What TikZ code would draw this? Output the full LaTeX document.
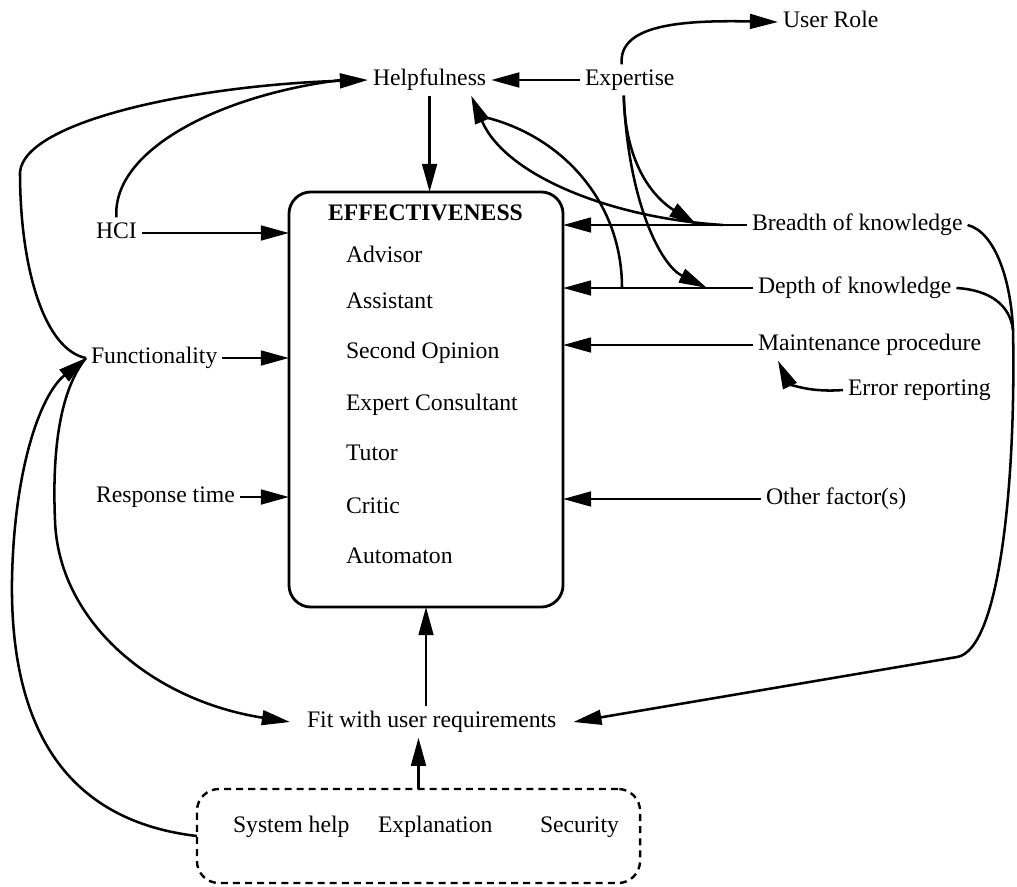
\documentclass[tikz,border=0pt]{standalone}
\usepackage{fontspec}
\setmainfont{Liberation Serif}
\usetikzlibrary{arrows.meta}
\begin{document}
\begin{tikzpicture}[x=0.025cm,y=-0.025cm,
  lbl/.style={anchor=west, inner sep=0pt, outer sep=0.125cm,
    text height=11.8pt, text depth=3.4pt,
    font=\fontsize{16.85pt}{20pt}\selectfont},
  boldlbl/.style={lbl, font=\fontsize{16.85pt}{20pt}\selectfont\bfseries},
  conn/.style={line width=1.8pt},
  arr/.style={conn, -{Triangle[length=20pt,width=10.5pt]}},
  mainbox/.style={draw, line width=2pt, rounded corners=0.55cm,
    inner sep=0pt, outer sep=0pt},
  groupbox/.style={draw, line width=1.7pt, dash pattern=on 5pt off 3.6pt,
    rounded corners=0.55cm, inner sep=0pt, outer sep=0pt},
]
\useasboundingbox (0,0) rectangle (1017,886);

% central box with the roles
\node[mainbox, minimum width=6.85cm, minimum height=10.375cm] (eff) at (426,399.5) {};
\node[boldlbl] (efft) at (323,215) {EFFECTIVENESS};
\node[lbl] (r1) at (341,257) {Advisor};
\node[lbl] (r2) at (341,303) {Assistant};
\node[lbl] (r3) at (341,353) {Second Opinion};
\node[lbl] (r4) at (341,405) {Expert Consultant};
\node[lbl] (r5) at (341,455) {Tutor};
\node[lbl] (r6) at (341,508) {Critic};
\node[lbl] (r7) at (341,558) {Automaton};

% factors
\node[lbl] (help) at (368,80) {Helpfulness};
\node[lbl] (exp) at (580,80) {Expertise};
\node[lbl] (role) at (778,22) {User Role};
\node[lbl] (hci) at (91,233) {HCI};
\node[lbl] (func) at (86,358) {Functionality};
\node[lbl] (resp) at (91,497) {Response time};
\node[lbl] (fit) at (302,722) {Fit with user requirements};
\node[lbl] (breadth) at (747,225) {Breadth of knowledge};
\node[lbl] (depth) at (753,288) {Depth of knowledge};
\node[lbl] (maint) at (753,345) {Maintenance procedure};
\node[lbl] (err) at (843,390) {Error reporting};
\node[lbl] (other) at (761,499) {Other factor(s)};

% dashed group at the bottom
\node[groupbox, minimum width=11.075cm, minimum height=2.35cm] (sys) at (418.5,836) {};
\node[lbl] (s1) at (228,827) {System help};
\node[lbl] (s2) at (373,827) {Explanation};
\node[lbl] (s3) at (535,827) {Security};

% junction points on the curves
\coordinate (bj) at (697,225);
\coordinate (dj) at (707,288);
\coordinate (bh) at (723,225);
\coordinate (dh) at (622,288);
\coordinate (hj) at (484,117);
\coordinate (rc) at (1013,330);
\coordinate (bend) at (957,657);
\coordinate (cusp) at (20,172);
\coordinate (lw) at (12,580);
\coordinate (lv) at (55,520);

% straight connectors into the box
\draw[arr] (help.south) -- (help.south |- eff.north);
\draw[arr] (hci) -- (eff.west |- hci);
\draw[arr] (func) -- (eff.west |- func);
\draw[arr] (resp) -- (eff.west |- resp);
\draw[arr] (breadth) -- (eff.east |- breadth);
\draw[arr] (depth) -- (eff.east |- depth);
\draw[arr] (maint) -- (eff.east |- maint);
\draw[arr] (other) -- (eff.east |- other);
\draw[arr] (fit.north -| eff.south) -- (eff.south);
\draw[arr] (sys.north) -- (sys.north |- fit.south);
\draw[arr] (exp) -- (help);

% Expertise links
\draw[arr] ([xshift=-0.2cm]exp.north) .. controls (618,25) and (680,20) .. (role.west);
\draw[arr] ([xshift=-0.15cm]exp.south) .. controls (625,160) and (650,195) .. (bj);
\draw[arr] ([xshift=-0.15cm]exp.south) .. controls (628,200) and (660,265) .. (dj);

% knowledge back to Helpfulness
\draw[arr] (bh) .. controls (610,218) and (505,175) .. ([xshift=-0.5cm]help.south east);
\draw[conn] (dh) .. controls (622,200) and (560,135) .. (hj);

% left side into Helpfulness
\draw[arr] (func.west) .. controls (45,350) and (20,270) .. (cusp)
  .. controls (25,120) and (200,85) .. (help.west);
\draw[conn] (hci.north) .. controls (112,150) and (220,95) .. ([xshift=-0.675cm]help.west);

% Error reporting into Maintenance procedure
\draw[arr] (err.west) .. controls (805,393) and (788,382) .. ([xshift=0.625cm]maint.south west);

% knowledge to Fit with user requirements
\draw[arr] (breadth.east) .. controls (995,232) and (1011,280) .. (rc)
  .. controls (1016,480) and (1000,650) .. (bend) -- ([xshift=0.3cm]fit.east);
\draw[conn] (depth.east) .. controls (990,290) and (1010,305) .. (rc);

% Functionality to Fit, and the group back to Functionality
\draw[arr] (func.west) .. controls (60,390) and (52,450) .. (lv)
  .. controls (58,620) and (150,700) .. ([xshift=-0.3cm]fit.west);
\draw[arr] (sys.west) .. controls (60,820) and (10,720) .. (lw)
  .. controls (14,470) and (40,395) .. (func.west);
\end{tikzpicture}
\end{document}
